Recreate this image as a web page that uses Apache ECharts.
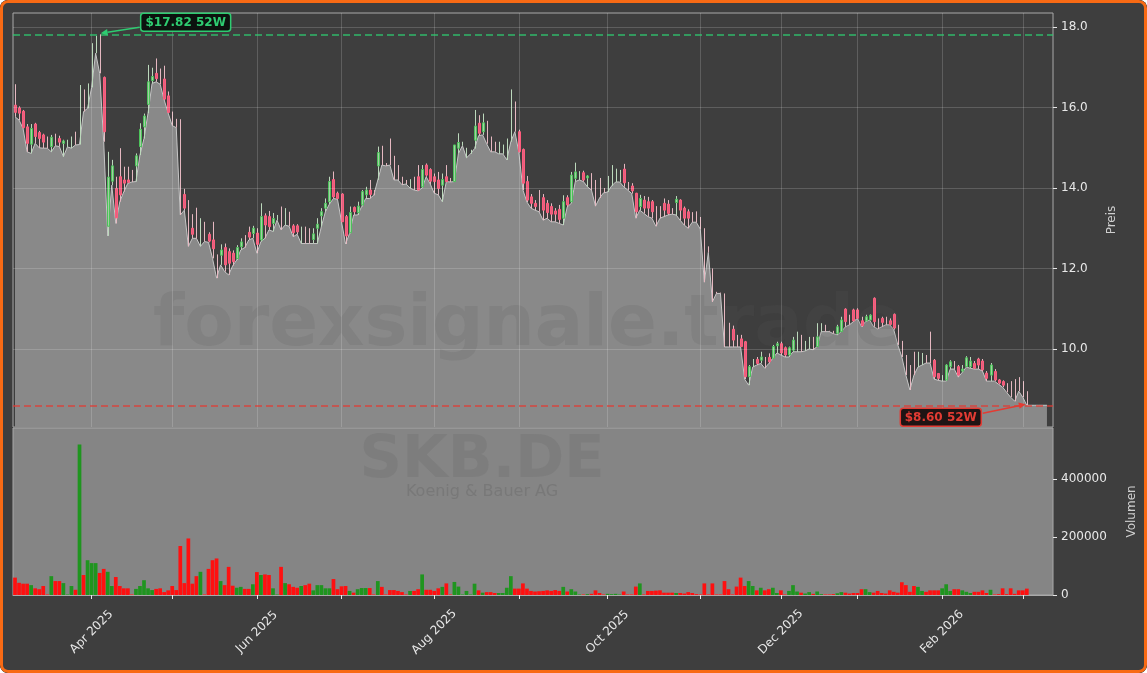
<!DOCTYPE html>
<html><head><meta charset="utf-8">
<script src="https://cdn.jsdelivr.net/npm/echarts@6/dist/echarts.min.js"></script>
<style>
html,body{margin:0;padding:0;background:#ffffff;}
#wrap{position:relative;width:1147px;height:673px;overflow:hidden;border-radius:8px;background:#3e3e3e;}
#chart{position:absolute;left:0;top:0;width:1147px;height:673px;}
#frame{position:absolute;left:0;top:0;width:1147px;height:673px;box-sizing:border-box;border:3px solid #f86a14;border-radius:8px;pointer-events:none;}
</style></head><body>
<div id="wrap"><div id="chart"></div><div id="frame"></div></div>
<script>
// ---- data ----
const startDate = '2025-03-05';
const holidays = ['2025-04-18','2025-04-21','2025-05-01','2025-12-24','2025-12-25','2025-12-26','2025-12-31','2026-01-01'];
const padSlots = 6;
const ticker = 'SKB.DE';
const company = 'Koenig & Bauer AG';
const watermark = 'forexsignale.trade';
const priceTicks = [10, 12, 14, 16, 18];
const volumeTicks = [0, 200000, 400000];

const openP = [
16.06,15.99,15.91,15.52,15.09,15.59,15.38,15.32,15.13,15.03,
15.21,15.23,15.11,15.12,15.12,15.16,15.90,16.30,16.20,17.10,
17.55,17.10,16.75,13.05,14.17,13.99,14.28,14.20,14.20,14.25,
14.55,15.03,15.52,16.08,16.67,16.85,16.63,16.71,16.29,15.80,
15.62,14.20,13.84,13.10,13.00,13.05,12.80,12.88,12.85,12.71,
12.10,12.33,12.52,12.42,12.38,12.25,12.54,12.66,12.90,12.87,
12.88,12.71,13.31,13.29,13.12,13.26,13.30,13.20,13.25,13.06,
13.06,12.88,12.90,12.78,12.72,13.00,13.31,13.50,13.66,14.21,
13.87,13.85,13.29,12.89,13.52,13.39,13.58,13.83,13.95,13.88,
14.55,14.80,14.60,14.90,14.50,14.40,14.18,14.15,14.12,14.10,
14.28,14.03,14.57,14.46,14.28,14.20,14.07,14.28,14.20,14.16,
14.99,15.06,14.93,14.92,15.19,15.61,15.40,15.40,15.10,14.98,
14.96,14.95,14.85,15.60,15.80,15.40,14.96,14.16,13.78,13.62,
13.50,13.76,13.62,13.54,13.43,13.47,13.25,13.76,13.66,14.24,
14.38,14.38,14.25,14.20,13.90,13.92,13.93,14.05,14.35,14.40,
14.30,14.47,14.05,14.05,13.87,13.54,13.70,13.66,13.66,13.45,
13.40,13.62,13.60,13.43,13.64,13.70,13.50,13.41,13.28,13.25,
13.15,12.40,12.48,11.70,11.40,11.39,10.70,10.30,10.49,10.25,
10.25,10.18,9.31,9.62,9.74,9.72,9.71,9.79,9.77,10.08,
10.13,10.03,9.85,9.97,10.05,10.20,10.10,10.15,10.15,10.06,
10.48,10.50,10.44,10.42,10.39,10.43,10.99,10.75,10.97,10.97,
10.70,10.70,10.72,11.26,10.65,10.76,10.70,10.70,10.86,10.35,
10.00,9.60,9.30,9.61,9.70,9.75,9.78,9.85,9.72,9.39,
9.28,9.23,9.56,9.62,9.56,9.45,9.56,9.56,9.64,9.75,
9.70,9.40,9.35,9.44,9.23,9.19,9.05,9.00,8.90,9.05,
9.00,8.75];
const closeP = [
15.88,15.86,15.50,15.11,15.48,15.28,15.23,15.14,15.12,15.26,
15.20,15.14,15.17,15.13,15.13,15.15,15.91,16.29,16.21,17.11,
17.56,17.09,15.40,14.27,14.55,13.26,13.83,14.12,14.14,14.24,
14.80,15.46,15.79,16.64,16.77,16.72,16.60,16.21,15.88,15.79,
15.61,14.19,13.50,13.09,12.85,13.04,12.81,12.87,12.68,12.49,
12.09,12.46,12.09,12.13,12.17,12.52,12.66,12.65,12.78,13.00,
12.60,13.29,13.08,13.04,13.24,13.27,13.29,13.21,13.24,12.89,
12.91,12.89,12.89,12.77,12.86,13.10,13.41,13.62,14.16,13.78,
13.74,13.16,12.81,13.39,13.41,13.55,13.91,13.95,13.84,13.87,
14.88,14.79,14.59,14.89,14.49,14.39,14.17,14.14,14.13,14.09,
13.95,14.46,14.32,14.17,14.16,13.99,14.21,14.16,14.19,15.07,
15.13,15.07,14.94,14.93,15.54,15.36,15.62,15.39,15.09,14.97,
14.97,14.96,14.86,15.61,15.79,14.90,14.12,13.70,13.62,13.54,
13.49,13.45,13.39,13.35,13.35,13.22,13.66,13.58,14.32,14.40,
14.39,14.20,14.30,14.19,13.89,13.91,13.92,14.06,14.36,14.41,
14.31,14.13,14.04,13.93,13.41,13.74,13.50,13.50,13.41,13.44,
13.39,13.45,13.37,13.42,13.72,13.45,13.25,13.25,13.27,13.24,
13.14,12.39,12.47,11.69,11.39,11.38,10.69,10.29,10.22,10.24,
10.06,9.31,9.56,9.63,9.64,9.80,9.70,9.68,10.06,10.13,
9.90,9.85,10.03,10.22,10.06,10.19,10.11,10.16,10.14,10.30,
10.49,10.49,10.43,10.41,10.55,10.72,10.68,10.74,10.70,10.76,
10.58,10.80,10.84,10.68,10.64,10.66,10.69,10.61,10.52,10.34,
9.99,9.59,9.29,9.60,9.71,9.76,9.77,9.84,9.31,9.27,
9.29,9.60,9.68,9.61,9.35,9.50,9.78,9.70,9.52,9.60,
9.48,9.27,9.60,9.23,9.15,9.10,9.04,8.99,8.89,9.04,
8.99,8.74];
const lowP = [
15.77,15.69,15.48,14.90,14.86,15.11,15.00,14.99,14.99,14.90,
15.05,15.03,14.78,15.02,14.99,15.07,15.08,15.90,15.98,16.50,
17.35,16.85,15.15,12.81,14.07,13.12,13.66,13.91,14.12,14.15,
14.16,14.82,15.23,15.86,16.60,16.64,16.58,16.19,15.86,15.55,
15.50,13.33,13.45,12.55,12.75,12.75,12.55,12.67,12.65,12.25,
11.76,12.09,11.92,11.84,12.07,12.21,12.46,12.52,12.71,12.75,
12.38,12.67,12.75,12.96,12.92,13.20,12.96,13.08,13.05,12.79,
12.85,12.62,12.62,12.62,12.62,12.62,13.04,13.41,13.60,13.74,
13.72,13.16,12.61,12.87,13.33,13.33,13.54,13.74,13.74,13.82,
14.20,14.57,14.55,14.57,14.20,14.20,14.08,14.10,14.00,13.95,
13.93,14.00,14.28,14.10,13.87,13.83,13.66,14.16,14.15,14.16,
14.86,15.05,14.75,14.85,14.98,15.30,15.32,15.10,14.90,14.90,
14.85,14.85,14.70,15.15,15.40,14.88,13.95,13.65,13.50,13.45,
13.41,13.20,13.25,13.16,13.16,13.12,13.08,13.53,13.62,14.16,
14.20,14.16,14.03,13.95,13.55,13.75,13.88,13.90,14.05,14.15,
14.15,14.03,13.95,13.86,13.25,13.45,13.37,13.29,13.25,13.05,
13.25,13.29,13.33,13.35,13.33,13.20,13.08,13.00,13.15,13.15,
12.98,11.66,12.40,11.17,11.38,11.38,10.05,10.05,10.05,10.05,
10.05,9.25,9.10,9.55,9.60,9.64,9.52,9.64,9.77,9.90,
9.85,9.80,9.80,9.93,9.93,9.93,9.95,10.00,9.98,10.06,
10.43,10.43,10.43,10.38,10.35,10.43,10.55,10.60,10.68,10.76,
10.55,10.68,10.72,10.55,10.50,10.55,10.60,10.60,10.48,10.10,
9.80,9.35,8.98,9.35,9.55,9.60,9.65,9.65,9.25,9.22,
9.20,9.20,9.50,9.50,9.30,9.42,9.55,9.52,9.50,9.50,
9.45,9.20,9.20,9.20,9.12,9.05,8.92,8.80,8.70,8.95,
8.80,8.60];
const highP = [
16.58,16.03,15.94,15.59,15.59,15.62,15.42,15.35,15.28,15.32,
15.35,15.30,15.20,15.20,15.28,15.40,16.56,16.45,16.60,17.60,
17.78,17.82,16.77,14.90,14.70,14.28,14.99,14.53,14.53,14.45,
14.86,15.61,15.85,17.06,16.99,17.22,16.97,17.04,16.40,15.90,
15.72,15.71,13.98,13.70,13.35,13.51,13.25,13.16,12.90,13.16,
12.35,12.60,12.62,12.50,12.45,12.58,12.75,12.83,13.04,13.06,
13.00,13.62,13.37,13.43,13.38,13.33,13.54,13.50,13.41,13.10,
13.10,13.04,13.04,13.00,13.00,13.25,13.50,13.74,14.28,14.41,
13.91,13.87,13.33,13.54,13.54,13.66,13.95,14.03,14.20,13.95,
15.03,15.05,14.62,15.23,14.80,14.57,14.28,14.20,14.22,14.28,
14.57,14.57,14.61,14.49,14.36,14.40,14.36,14.57,14.25,15.07,
15.36,15.15,15.00,14.95,15.94,15.81,15.85,15.67,15.28,15.15,
15.15,15.08,15.23,16.45,16.15,15.45,14.98,14.30,13.85,13.70,
13.95,13.85,13.70,13.62,13.50,13.58,13.82,13.82,14.40,14.63,
14.42,14.43,14.32,14.37,14.20,14.25,14.00,14.30,14.57,14.48,
14.45,14.60,14.15,14.12,13.88,13.83,13.80,13.78,13.70,13.55,
13.55,13.74,13.70,13.50,13.80,13.72,13.54,13.47,13.40,13.42,
13.28,13.00,12.55,12.00,11.42,11.40,11.38,10.65,10.58,10.35,
10.35,10.20,9.60,9.75,9.80,9.93,9.80,9.89,10.10,10.18,
10.18,10.06,10.06,10.30,10.43,10.35,10.20,10.30,10.30,10.64,
10.64,10.60,10.45,10.45,10.60,10.80,11.01,10.85,11.00,11.01,
10.80,10.85,10.86,11.28,10.76,10.80,10.80,10.76,10.88,10.60,
10.20,9.85,9.60,9.93,9.93,9.90,9.85,10.43,9.75,9.40,
9.35,9.62,9.72,9.70,9.60,9.60,9.82,9.80,9.70,9.78,
9.75,9.45,9.65,9.50,9.25,9.22,9.15,9.20,9.25,9.30,
9.20,8.95];
const volume = [
60000,42000,39000,39000,34000,23000,20000,31000,2000,65000,
48000,48000,41000,2000,31000,18000,519000,69000,120000,110000,
110000,76000,90000,80000,31000,62000,31000,23000,23000,2000,
21000,31000,51000,23000,17000,21000,23000,10000,16000,31000,
17000,169000,41000,195000,39000,65000,80000,2000,90000,120000,
126000,48000,34000,97000,32000,25000,28000,21000,21000,37000,
79000,69000,71000,69000,23000,2000,97000,41000,37000,28000,
25000,31000,34000,39000,16000,34000,34000,23000,23000,55000,
20000,30000,31000,14000,8000,20000,24000,24000,24000,2000,
48000,28000,2000,17000,17000,14000,10000,2000,14000,14000,
20000,71000,18000,18000,14000,23000,28000,40000,2000,45000,
29000,2000,14000,2000,39000,16000,8000,10000,10000,7000,
7000,7000,25000,65000,22000,22000,40000,22000,14000,12000,
13000,14000,16000,14000,17000,14000,28000,12000,20000,12000,
2000,2000,3000,4000,16000,7000,2000,4000,3000,4000,
2000,12000,2000,2000,29000,40000,2000,14000,14000,15000,
16000,8000,8000,8000,7000,7000,5000,10000,7000,3000,
2000,40000,2000,40000,2000,2000,48000,20000,2000,29000,
60000,31000,48000,31000,16000,25000,16000,20000,25000,7000,
16000,2000,14000,34000,12000,8000,5000,10000,4000,12000,
3000,2000,2000,3000,6000,10000,8000,5000,7000,7000,
20000,20000,10000,8000,14000,7000,5000,16000,11000,8000,
44000,34000,11000,31000,28000,14000,11000,16000,16000,16000,
23000,37000,14000,20000,20000,16000,11000,7000,11000,11000,
16000,7000,18000,2000,3000,23000,3000,23000,4000,16000,
16000,22000];

// ---- derived ----
function tradingDays(start, n, hol) {
  const out = []; const d = new Date(start + 'T00:00:00Z');
  while (out.length < n) {
    const dow = d.getUTCDay(); const s = d.toISOString().slice(0, 10);
    if (dow !== 0 && dow !== 6 && hol.indexOf(s) < 0) out.push(s);
    d.setUTCDate(d.getUTCDate() + 1);
  }
  return out;
}
const nC = openP.length;
const dates = tradingDays(startDate, nC + padSlots, holidays);
const MON = ['Jan','Feb','Mar','Apr','May','Jun','Jul','Aug','Sep','Oct','Nov','Dec'];
const monthStarts = [];
for (let i = 1; i < dates.length; i++) if (dates[i].slice(0,7) !== dates[i-1].slice(0,7)) monthStarts.push(i);
const tickSet = new Set(monthStarts);
const labelSet = new Set(monthStarts.filter(i => (+dates[i].slice(5,7)) % 2 === 0));
const lastLow = lowP[nC - 1];
const areaVals = lowP.concat(new Array(padSlots - 1).fill(lastLow));
const high52 = Math.max.apply(null, highP);
const low52 = Math.min.apply(null, lowP);
const candles = openP.map((o, i) => [i, o, closeP[i], lowP[i], highP[i]]);

const C = {
  upBody:'#a6cca6', upEdge:'#4cc35a', dnBody:'#df6281', dnEdge:'#ff5c7c',
  upWick:'#bcd9bc', dnWick:'#e6b8c1', volUp:'#1f951f', volDn:'#ff1010',
  green:'#2ecc71', red:'#e33b33', text:'#e8e8e8', name:'#cfcfcf'
};
const FONT = 'DejaVu Sans';

const chart = echarts.init(document.getElementById('chart'), null, {renderer:'canvas'});
const option = {
  animation: false,
  backgroundColor: '#3e3e3e',
  textStyle: {fontFamily: FONT},
  grid: [
    {left:13, top:13, width:1040, height:414, show:true, borderColor:'#a9a9a9', borderWidth:1, backgroundColor:'transparent'},
    {left:13, top:428, width:1040, height:167, show:true, borderColor:'#a9a9a9', borderWidth:1, backgroundColor:'#858585'}
  ],
  xAxis: [
    {gridIndex:0, type:'category', data:dates, boundaryGap:true,
     axisLine:{show:false}, axisTick:{show:false}, axisLabel:{show:false}, splitLine:{show:false}},
    {gridIndex:1, type:'category', data:dates, boundaryGap:true,
     axisLine:{show:true, lineStyle:{color:'#a9a9a9'}},
     axisTick:{show:true, alignWithLabel:true, length:4, interval:(i)=>tickSet.has(i), lineStyle:{color:'#e8e8e8'}},
     axisLabel:{interval:(i)=>labelSet.has(i), rotate:45, align:'center', verticalAlign:'middle', margin:37,
       color:C.text, fontSize:12, fontFamily:FONT,
       formatter:(v)=>MON[+v.slice(5,7)-1] + ' ' + v.slice(0,4)},
     splitLine:{show:false}}
  ],
  yAxis: [
    {gridIndex:0, type:'value', position:'right', min:8.06, max:18.35,
     axisLine:{show:false}, splitLine:{show:false},
     axisTick:{show:true, customValues:priceTicks, length:4, lineStyle:{color:'#e8e8e8'}},
     axisLabel:{customValues:priceTicks, formatter:(v)=>v.toFixed(1), color:C.text, fontSize:12, margin:8, fontFamily:FONT},
     name:'Preis', nameLocation:'middle', nameRotate:90, nameGap:53,
     nameTextStyle:{color:C.name, fontSize:12, fontFamily:FONT}},
    {gridIndex:1, type:'value', position:'right', min:0, max:576000,
     axisLine:{show:false}, splitLine:{show:false},
     axisTick:{show:true, customValues:volumeTicks, length:4, lineStyle:{color:'#e8e8e8'}},
     axisLabel:{customValues:volumeTicks, formatter:(v)=>String(Math.round(v)), color:C.text, fontSize:12, margin:8, fontFamily:FONT},
     name:'Volumen', nameLocation:'middle', nameRotate:90, nameGap:73,
     nameTextStyle:{color:C.name, fontSize:12, fontFamily:FONT}}
  ],
  series: [
    {type:'line', xAxisIndex:0, yAxisIndex:0, data:[], z:0, silent:true,
     markLine:{silent:true, symbol:['none','none'], label:{show:false}, animation:false,
       lineStyle:{color:'rgba(255,255,255,0.17)', width:1, type:'solid'},
       data: priceTicks.map(v=>({yAxis:v})).concat(monthStarts.map(i=>({xAxis:dates[i]})))}},
    {type:'line', xAxisIndex:0, yAxisIndex:0, data:areaVals, z:1, symbol:'none', silent:true,
     lineStyle:{color:'#c6c6c6', width:1}, areaStyle:{color:'#898989', opacity:1, origin:'start'}},
    {type:'custom', xAxisIndex:0, yAxisIndex:0, data:candles, z:3, silent:true,
     encode:{x:0, y:[1,2,3,4]},
     renderItem:function(params, api){
       const i = api.value(0), o = api.value(1), c = api.value(2), l = api.value(3), h = api.value(4);
       const pO = api.coord([i,o]), pC = api.coord([i,c]), pL = api.coord([i,l]), pH = api.coord([i,h]);
       const x = Math.round(pO[0]) + 0.5;
       const up = c >= o;
       const ch = [{type:'line', shape:{x1:x, y1:pH[1], x2:x, y2:pL[1]}, style:{stroke: up?C.upWick:C.dnWick, lineWidth:1}}];
       const top = Math.min(pO[1], pC[1]), bh = Math.abs(pO[1]-pC[1]);
       if (bh >= 1.5) ch.push({type:'rect', shape:{x:x-1, y:top, width:2, height:bh},
         style:{fill: up?C.upBody:C.dnBody, stroke: up?C.upEdge:C.dnEdge, lineWidth:1}});
       return {type:'group', children:ch};
     }},
    {type:'line', xAxisIndex:0, yAxisIndex:0, data:[], z:4, silent:true,
     markLine:{silent:true, symbol:['none','none'], label:{show:false}, animation:false,
       data:[{yAxis:high52, lineStyle:{color:C.green, width:1.5, type:[7,4], opacity:0.85}},
             {yAxis:low52, lineStyle:{color:C.red, width:1.5, type:[7,4], opacity:0.85}}]}},
    {type:'bar', xAxisIndex:1, yAxisIndex:1, z:2, silent:true, barCategoryGap:'8%',
     data: volume.map((v,i)=>({value:v, itemStyle:{color: closeP[i]>=openP[i]?C.volUp:C.volDn}}))}
  ]
};
chart.setOption(option);

// annotations anchored to the 52W extremes through the axes
const hiIdx = highP.indexOf(high52), loIdx = lowP.indexOf(low52);
const pHi = chart.convertToPixel({xAxisIndex:0, yAxisIndex:0}, [hiIdx, high52]);
const pLo = chart.convertToPixel({xAxisIndex:0, yAxisIndex:0}, [loIdx, low52]);
function arrow(x1,y1,x2,y2,color){
  const a = Math.atan2(y2-y1, x2-x1), L = 7, W = 3.2;
  const bx = x2 - L*Math.cos(a), by = y2 - L*Math.sin(a);
  return [
    {type:'line', z:20, shape:{x1:x1,y1:y1,x2:bx,y2:by}, style:{stroke:color, lineWidth:1.6}},
    {type:'polygon', z:20, shape:{points:[[x2,y2],[bx - W*Math.sin(a), by + W*Math.cos(a)],[bx + W*Math.sin(a), by - W*Math.cos(a)]]}, style:{fill:color}}
  ];
}
function box(cx, cy, w, h, text, color, bg){
  return [
    {type:'rect', z:21, shape:{x:cx-w/2, y:cy-h/2, width:w, height:h, r:3}, style:{fill:bg, stroke:color, lineWidth:1.5}},
    {type:'text', z:22, x:cx, y:cy+0.5, style:{text:text, fill:color, font:'bold 12px "DejaVu Sans"', align:'center', verticalAlign:'middle'}}
  ];
}
const gCx = pHi[0] + 86, gCy = pHi[1] - 12;
const rCx = pLo[0] - 86, rCy = pLo[1] + 12;
const hiText = '$' + high52.toFixed(2) + ' 52W', loText = '$' + low52.toFixed(2) + ' 52W';
const wmFill = 'rgba(85,85,85,0.16)';
const elements = [
  {type:'text', z:2, x:528, y:326, silent:true, style:{text:watermark, font:'bold 72px "DejaVu Sans"', fill:wmFill, align:'center', verticalAlign:'middle'}},
  {type:'text', z:2, x:482, y:462, silent:true, style:{text:ticker, font:'bold 59px "DejaVu Sans"', fill:wmFill, align:'center', verticalAlign:'middle'}},
  {type:'text', z:2, x:482, y:492, silent:true, style:{text:company, font:'16px "DejaVu Sans"', fill:'rgba(85,85,85,0.25)', align:'center', verticalAlign:'middle'}}
].concat(
  arrow(gCx-46, gCy+5, pHi[0]+1, pHi[1]-1, C.green),
  box(gCx, gCy, 90, 18, hiText, C.green, 'rgba(8,14,10,0.92)'),
  arrow(rCx+42, rCy-4, pLo[0]-1, pLo[1]-1, C.red),
  box(rCx, rCy, 81, 18, loText, C.red, 'rgba(22,10,10,0.92)')
);
chart.setOption({graphic:{elements:elements}});
</script>
</body></html>
